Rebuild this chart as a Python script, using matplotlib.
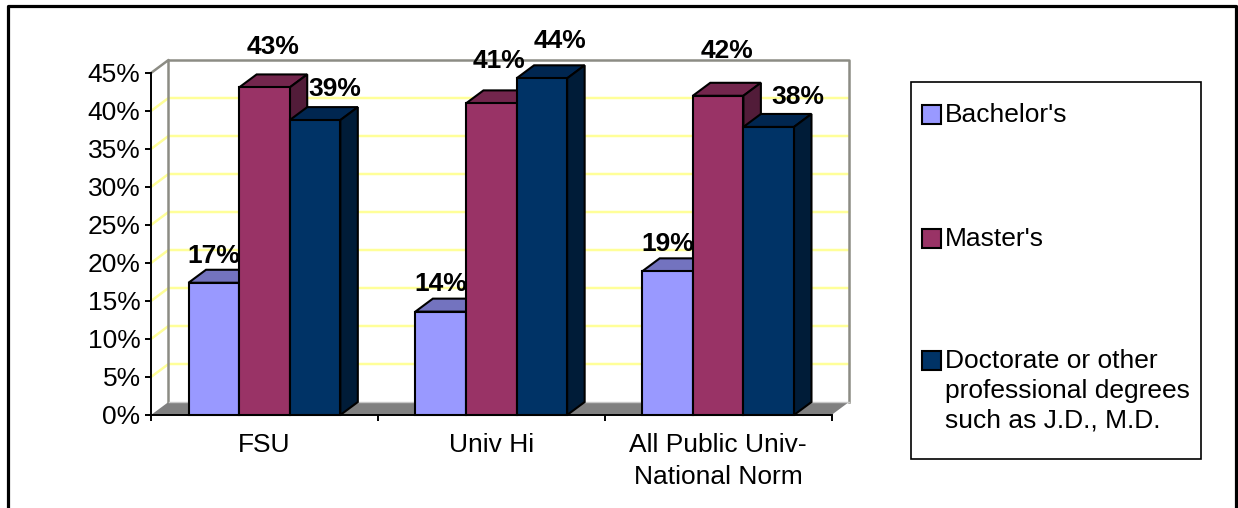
import matplotlib
matplotlib.use('Agg')
import matplotlib.pyplot as plt
from matplotlib.patches import Polygon, Rectangle
from matplotlib.ticker import PercentFormatter

plt.rcParams['font.family'] = ['Liberation Sans', 'DejaVu Sans']

# values
categories = ['FSU', 'Univ Hi', 'All Public Univ-\nNational Norm']
series_names = ["Bachelor's", "Master's",
                'Doctorate or other\nprofessional degrees\nsuch as J.D., M.D.']
bachelors = [17.4, 13.6, 18.9]
masters = [43.1, 41.0, 42.0]
doctorate = [38.8, 44.3, 37.9]
y_ticks = list(range(0, 50, 5))

# style: front, top and side colour of each series
front_colors = ['#9999FF', '#993366', '#003366']
top_colors = ['#7373BF', '#73264D', '#002650']
side_colors = ['#5C5C99', '#521C39', '#001C38']
grid_color = '#FFFF99'
wall_color = '#8C8C84'
floor_color = '#808080'

# hand placed data labels, offset in pixels from the top of each front face
label_offsets = [
    [(0, 27), (9, 40), (20, 31)],
    [(0, 28), (8, 42), (18, 37)],
    [(0, 27), (9, 45), (29, 30)],
]

fig = plt.figure(figsize=(12.38, 5.08), dpi=100)
W, H = 1238, 508

# full figure layer in pixels for the frame and the legend
bg = fig.add_axes([0, 0, 1, 1])
bg.set_xlim(0, W)
bg.set_ylim(H, 0)
bg.axis('off')
bg.plot([8, 8, 1236, 1236], [H + 5, 6, 6, H + 5], color='black', lw=2.3)

bg.add_patch(Rectangle((911, 82), 289.5, 376.5, fc='white', ec='black', lw=1.2))
swatch_y = [114.5, 238.5, 360.5]
text_y = [115, 239, 391]
for name, color, sy, ty in zip(series_names, front_colors, swatch_y, text_y):
    bg.add_patch(Rectangle((922, sy - 10), 19, 19.5, fc=color, ec='black', lw=1.5))
    bg.text(945, ty, name, fontsize=19, va='center', ha='left', linespacing=1.3)

# chart axes, one category is one x unit
left, right, bottom, top = 151, 831.5, 415, 73
ax = fig.add_axes([left / W, 1 - bottom / H, (right - left) / W, (bottom - top) / H])
ax.patch.set_alpha(0)
ax.set_xlim(0, 3)
ax.set_ylim(0, 45)
for s in ['top', 'right']:
    ax.spines[s].set_visible(False)
for s in ['left', 'bottom']:
    ax.spines[s].set_linewidth(1.4)

# depth of the fake 3d, in data units
dx = 17.5 / ((right - left) / 3)
dy = 13 / ((bottom - top) / 45)
y_top = y_ticks[-1]

# floor and walls
ax.add_patch(Polygon([(0, 0), (dx, dy), (3 + dx, dy), (3, 0)], fc=floor_color, ec='none',
                     zorder=1, clip_on=False))
for t in y_ticks[1:-1]:
    ax.plot([0, dx, 3 + dx], [t, t + dy, t + dy], color=grid_color, lw=1.8, zorder=1,
            clip_on=False)
ax.plot([0, dx, dx], [y_top, y_top + dy, dy], color=wall_color, lw=1.8, zorder=1, clip_on=False)
ax.plot([dx, 3 + dx, 3 + dx], [y_top + dy, y_top + dy, dy], color=wall_color, lw=1.8, zorder=1,
        clip_on=False)
ax.plot([dx, 3 + dx], [dy, dy], color='#C8C8C8', lw=1, zorder=1, clip_on=False)

# bars
width = 50.6 / ((right - left) / 3)
values = [bachelors, masters, doctorate]
for i in range(3):
    for j, vals in enumerate(values):
        x0 = i + 0.5 + (j - 1.5) * width
        v = vals[i]
        z = 2 + i + j * 0.1
        ax.add_patch(Polygon([(x0, v), (x0 + dx, v + dy), (x0 + width + dx, v + dy), (x0 + width, v)],
                             fc=top_colors[j], ec='black', lw=1.5, zorder=z, clip_on=False))
        ax.add_patch(Polygon([(x0 + width, 0), (x0 + width + dx, dy), (x0 + width + dx, v + dy), (x0 + width, v)],
                             fc=side_colors[j], ec='black', lw=1.5, zorder=z, clip_on=False))
        ax.bar(x0, v, width, align='edge', color=front_colors[j], edgecolor='black', lw=1.5,
               zorder=z + 0.01, clip_on=False)
        ox, oy = label_offsets[i][j]
        ax.annotate(f'{v:.0f}%', (x0 + width / 2, v), xytext=(ox, oy), textcoords='offset pixels',
                    ha='center', va='center', fontsize=19, fontweight='bold', zorder=10,
                    annotation_clip=False)

# axes ticks
ax.set_yticks(y_ticks)
ax.yaxis.set_major_formatter(PercentFormatter(decimals=0))
ax.tick_params(axis='y', labelsize=19, length=4.5, width=1.4, pad=3)
ax.set_xticks([0.5, 1.5, 2.5])
ax.set_xticklabels(categories, fontsize=19, linespacing=1.4)
ax.set_xticks([0, 1, 2, 3], minor=True)
ax.tick_params(axis='x', which='major', length=0, pad=13)
ax.tick_params(axis='x', which='minor', length=4.5, width=1.4)

fig.savefig('out.png', dpi=100)
